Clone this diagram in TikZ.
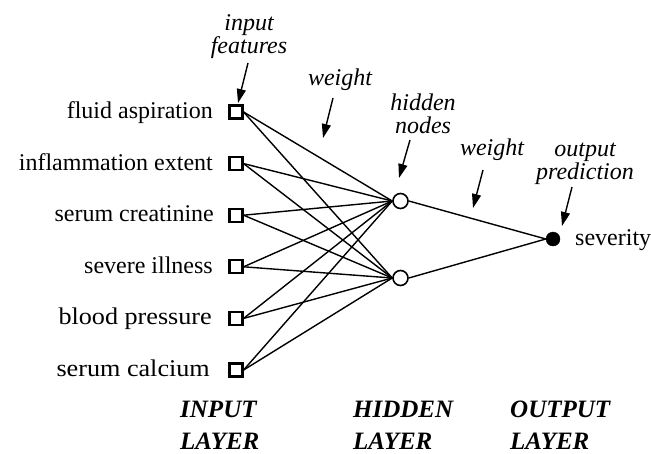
\documentclass[tikz,border=0pt]{standalone}
\usepackage{fontspec}
\setmainfont{Liberation Serif}
\usetikzlibrary{arrows.meta}
\begin{document}
\begin{tikzpicture}[x=1pt,y=-1pt,
  inbox/.style={draw,rectangle,minimum size=13pt,inner sep=0pt,line width=2.2pt},
  hid/.style={draw,circle,minimum size=15pt,inner sep=0pt,line width=1.6pt,fill=white},
  outn/.style={draw,circle,fill=black,minimum size=14pt,inner sep=0pt},
  lab/.style={anchor=base east,inner sep=0pt,font=\fontsize{24}{26}\selectfont},
  ann/.style={inner sep=0pt,align=center,font=\fontsize{24}{23}\selectfont\itshape},
  layer/.style={anchor=base west,inner sep=0pt,align=left,font=\fontsize{25}{32}\selectfont\bfseries\itshape},
  wire/.style={line width=1.4pt},
  pointer/.style={line width=1.4pt,-{Triangle[length=14pt,width=9pt]}}]
\useasboundingbox (0,0) rectangle (651,453);

% input nodes
\node[inbox] (in1) at (236,112) {};
\node[inbox] (in2) at (236,163.6) {};
\node[inbox] (in3) at (236,215.2) {};
\node[inbox] (in4) at (236,266.8) {};
\node[inbox] (in5) at (236,318.4) {};
\node[inbox] (in6) at (236,370) {};

% labels
\node[lab] (l1) at (213,118.5) {fluid aspiration};
\node[lab] (l2) at (213,170.1) {inflammation extent};
\node[lab] (l3) at (214,221.7) {serum creatinine};
\node[lab] (l4) at (213,273.3) {severe illness};
\node[lab] (l5) at (212,324.9) {\scalebox{1.09}[1]{blood pressure}};
\node[lab] (l6) at (210,376.5) {\scalebox{1.09}[1]{serum calcium}};

% hidden and output
\node[hid] (h1) at (400.5,201) {};
\node[hid] (h2) at (400.5,278) {};
\node[outn] (o) at (553,239) {};
\node[anchor=base west,inner sep=0pt,font=\fontsize{24}{26}\selectfont] (sev) at (575,245) {severity};

% wires
\foreach \i in {1,...,6}{
  \draw[wire] (in\i.east) -- (h1.west);
  \draw[wire] (in\i.east) -- (h2.west);
}
\draw[wire] (h1.east) -- (o.west);
\draw[wire] (h2.east) -- (o.west);

% annotations (base anchor = baseline of last line)
\node[ann,anchor=base] (a1) at (249,53) {input\\features};
\node[ann,anchor=base] (a2) at (340,85) {weight};
\node[ann,anchor=base] (a3) at (423,133) {hidden\\nodes};
\node[ann,anchor=base] (a4) at (492,155) {weight};
\node[ann,anchor=base] (a5) at (585,179) {output\\prediction};

\coordinate (p1s) at (248,63);  \coordinate (p1e) at (238,103);
\coordinate (p2s) at (333,98);  \coordinate (p2e) at (323,138);
\coordinate (p3s) at (410,140); \coordinate (p3e) at (399,178);
\coordinate (p4s) at (483,170); \coordinate (p4e) at (473,208);
\coordinate (p5s) at (572,187); \coordinate (p5e) at (562,226);
\draw[pointer] (p1s) -- (p1e);
\draw[pointer] (p2s) -- (p2e);
\draw[pointer] (p3s) -- (p3e);
\draw[pointer] (p4s) -- (p4e);
\draw[pointer] (p5s) -- (p5e);

% layer titles
\node[layer] (L1) at (180,449) {INPUT\\LAYER};
\node[layer] (L2) at (353,449) {HIDDEN\\LAYER};
\node[layer] (L3) at (510,449) {OUTPUT\\LAYER};
\end{tikzpicture}
\end{document}
